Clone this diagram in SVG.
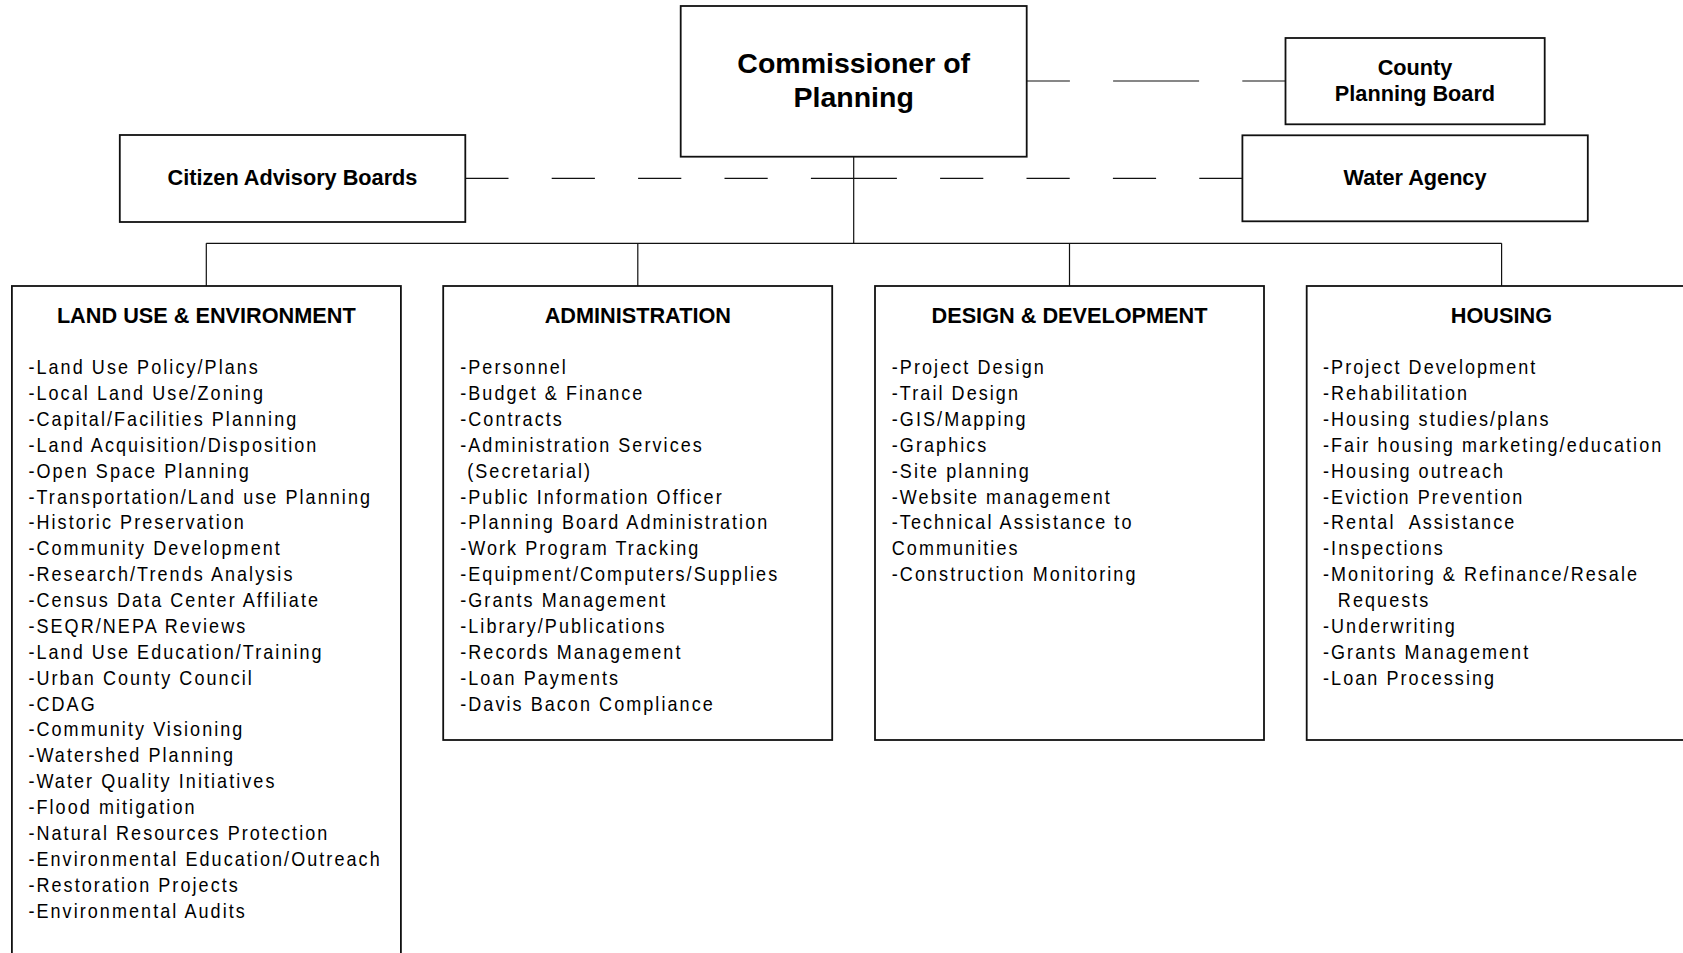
<svg xmlns="http://www.w3.org/2000/svg" width="1683" height="953" viewBox="0 0 1683 953">
<style>
text{font-family:"Liberation Sans",Arial,sans-serif;fill:#000}
.box{fill:#fff;stroke:#111;stroke-width:1.8}
.t{font-weight:bold;font-size:21.7px;text-anchor:middle}
.big{font-weight:bold;font-size:28.5px;text-anchor:middle}
.item{font-size:20px;letter-spacing:2.3px}
.con{fill:none;stroke:#111;stroke-width:1.2}
.dash{stroke-dasharray:43.2 43.2}
</style>
<rect x="0" y="0" width="1683" height="953" fill="#fff"/>
<g id="connectors">
<path class="con" d="M853.7 156.7V243.3M206.3 243.3H1501.6M206.3 243.3V286M637.8 243.3V286M1069.5 243.3V286M1501.6 243.3V286"/>
<path class="con dash" d="M465.3 178.3H853.7"/>
<path class="con dash" d="M853.7 178.3H1242.4"/>
<path class="con dash" d="M1026.7 81H1156"/>
<path class="con dash" d="M1285.5 81H1156"/>
</g>
<g id="commissioner">
<rect class="box" x="680.7" y="6" width="346" height="150.7"/>
<text class="big" x="853.7" y="72.7">Commissioner of</text>
<text class="big" x="853.7" y="107.3">Planning</text>
</g>
<g id="county">
<rect class="box" x="1285.5" y="38" width="259.2" height="86.3"/>
<text class="t" x="1415" y="75">County</text>
<text class="t" x="1415" y="100.7">Planning Board</text>
</g>
<g id="citizen">
<rect class="box" x="119.8" y="135" width="345.5" height="87"/>
<text class="t" x="292.5" y="185">Citizen Advisory Boards</text>
</g>
<g id="water">
<rect class="box" x="1242.4" y="135.3" width="345.4" height="86"/>
<text class="t" x="1415" y="185">Water Agency</text>
</g>
<g id="landuse">
<rect class="box" x="11.9" y="286" width="389" height="700"/>
<text class="t" x="206.3" y="322.7">LAND USE &amp; ENVIRONMENT</text>
<text class="item" transform="translate(28.4,0) scale(0.9,1)">
<tspan x="0" y="374.3">-Land Use Policy/Plans</tspan>
<tspan x="0" y="400.2">-Local Land Use/Zoning</tspan>
<tspan x="0" y="426.0">-Capital/Facilities Planning</tspan>
<tspan x="0" y="451.9">-Land Acquisition/Disposition</tspan>
<tspan x="0" y="477.8">-Open Space Planning</tspan>
<tspan x="0" y="503.7">-Transportation/Land use Planning</tspan>
<tspan x="0" y="529.5">-Historic Preservation</tspan>
<tspan x="0" y="555.4">-Community Development</tspan>
<tspan x="0" y="581.3">-Research/Trends Analysis</tspan>
<tspan x="0" y="607.1">-Census Data Center Affiliate</tspan>
<tspan x="0" y="633.0">-SEQR/NEPA Reviews</tspan>
<tspan x="0" y="658.9">-Land Use Education/Training</tspan>
<tspan x="0" y="684.7">-Urban County Council</tspan>
<tspan x="0" y="710.6">-CDAG</tspan>
<tspan x="0" y="736.5">-Community Visioning</tspan>
<tspan x="0" y="762.4">-Watershed Planning</tspan>
<tspan x="0" y="788.2">-Water Quality Initiatives</tspan>
<tspan x="0" y="814.1">-Flood mitigation</tspan>
<tspan x="0" y="840.0">-Natural Resources Protection</tspan>
<tspan x="0" y="865.8">-Environmental Education/Outreach</tspan>
<tspan x="0" y="891.7">-Restoration Projects</tspan>
<tspan x="0" y="917.6">-Environmental Audits</tspan>
</text>
</g>
<g id="administration">
<rect class="box" x="443.2" y="286" width="389" height="454"/>
<text class="t" x="637.8" y="322.7">ADMINISTRATION</text>
<text class="item" transform="translate(460.2,0) scale(0.9,1)">
<tspan x="0" y="374.3">-Personnel</tspan>
<tspan x="0" y="400.2">-Budget &amp; Finance</tspan>
<tspan x="0" y="426.0">-Contracts</tspan>
<tspan x="0" y="451.9">-Administration Services</tspan>
<tspan x="7.8" y="477.8">(Secretarial)</tspan>
<tspan x="0" y="503.7">-Public Information Officer</tspan>
<tspan x="0" y="529.5">-Planning Board Administration</tspan>
<tspan x="0" y="555.4">-Work Program Tracking</tspan>
<tspan x="0" y="581.3">-Equipment/Computers/Supplies</tspan>
<tspan x="0" y="607.1">-Grants Management</tspan>
<tspan x="0" y="633.0">-Library/Publications</tspan>
<tspan x="0" y="658.9">-Records Management</tspan>
<tspan x="0" y="684.7">-Loan Payments</tspan>
<tspan x="0" y="710.6">-Davis Bacon Compliance</tspan>
</text>
</g>
<g id="design">
<rect class="box" x="875" y="286" width="389" height="454"/>
<text class="t" x="1069.5" y="322.7">DESIGN &amp; DEVELOPMENT</text>
<text class="item" transform="translate(891.8,0) scale(0.9,1)">
<tspan x="0" y="374.3">-Project Design</tspan>
<tspan x="0" y="400.2">-Trail Design</tspan>
<tspan x="0" y="426.0">-GIS/Mapping</tspan>
<tspan x="0" y="451.9">-Graphics</tspan>
<tspan x="0" y="477.8">-Site planning</tspan>
<tspan x="0" y="503.7">-Website management</tspan>
<tspan x="0" y="529.5">-Technical Assistance to</tspan>
<tspan x="0" y="555.4">Communities</tspan>
<tspan x="0" y="581.3">-Construction Monitoring</tspan>
</text>
</g>
<g id="housing">
<rect class="box" x="1306.7" y="286" width="389" height="454"/>
<text class="t" x="1501.4" y="322.7">HOUSING</text>
<text class="item" transform="translate(1323,0) scale(0.9,1)" xml:space="preserve"><tspan x="0" y="374.3">-Project Development</tspan><tspan x="0" y="400.2">-Rehabilitation</tspan><tspan x="0" y="426.0">-Housing studies/plans</tspan><tspan x="0" y="451.9">-Fair housing marketing/education</tspan><tspan x="0" y="477.8">-Housing outreach</tspan><tspan x="0" y="503.7">-Eviction Prevention</tspan><tspan x="0" y="529.5">-Rental  Assistance</tspan><tspan x="0" y="555.4">-Inspections</tspan><tspan x="0" y="581.3">-Monitoring &amp; Refinance/Resale</tspan><tspan x="16.5" y="607.1">Requests</tspan><tspan x="0" y="633.0">-Underwriting</tspan><tspan x="0" y="658.9">-Grants Management</tspan><tspan x="0" y="684.7">-Loan Processing</tspan></text>
</g>
</svg>
